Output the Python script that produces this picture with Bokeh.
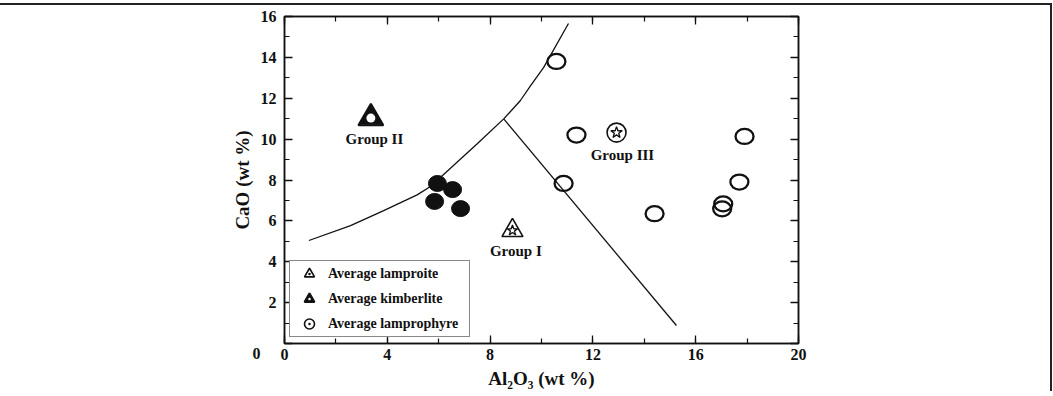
from bokeh.plotting import figure
from bokeh.models import (LinearAxis, SingleIntervalTicker, Legend, LegendItem,
                          ColumnDataSource, CustomJSTickFormatter)
from bokeh.core.properties import value
from bokeh.embed import file_html
from bokeh.resources import INLINE

# ---------------- data ----------------
filled_al2o3 = [5.95, 6.54, 5.84, 6.85]
filled_cao = [7.83, 7.53, 6.95, 6.60]

open_al2o3 = [10.58, 11.36, 10.86, 14.40, 17.07, 17.03, 17.70, 17.90]
open_cao = [13.80, 10.20, 7.83, 6.35, 6.83, 6.59, 7.90, 10.13]

curve_al2o3 = [0.95, 2.57, 3.86, 5.16, 5.68, 6.33, 7.50, 8.53, 9.18, 9.57, 10.08, 11.05]
curve_cao = [5.04, 5.77, 6.50, 7.27, 7.68, 8.43, 9.77, 10.99, 11.89, 12.60, 13.50, 15.66]

divider_al2o3 = [8.53, 15.25]
divider_cao = [10.99, 0.88]

kimberlite_al2o3 = [3.36]
kimberlite_cao = [11.03]
lamproite_al2o3 = [8.87]
lamproite_cao = [5.53]
lamprophyre_al2o3 = [12.92]
lamprophyre_cao = [10.32]

group_names = ["Group II", "Group I", "Group III"]
group_label_al2o3 = [3.50, 9.00, 13.15]
group_label_cao = [10.03, 4.55, 9.20]

legend_labels = ["Average lamproite", "Average kimberlite", "Average lamprophyre"]

x_label = "Al\u2082O\u2083 (wt %)"
y_label = "CaO (wt %)"

FONT = "Liberation Serif"
INK = "#111111"

p = figure(frame_width=514, frame_height=327, x_range=(0, 20), y_range=(0, 16),
           output_backend="svg", toolbar_location=None,
           min_border_left=284, min_border_right=252, min_border_top=11,
           min_border_bottom=48, background_fill_color="white",
           border_fill_color="white", outline_line_color=INK,
           outline_line_width=1.5)
p.xgrid.visible = False
p.ygrid.visible = False

blank = CustomJSTickFormatter(code="return ''")


def style_axis(ax, show_labels=True):
    ax.major_tick_in = 8
    ax.major_tick_out = 0
    ax.minor_tick_in = 5
    ax.minor_tick_out = 0
    ax.axis_line_width = 1.5
    ax.axis_line_color = INK
    ax.major_tick_line_width = 1.3
    ax.minor_tick_line_width = 1.2
    ax.major_tick_line_color = INK
    ax.minor_tick_line_color = INK
    if show_labels:
        ax.major_label_text_font = FONT
        ax.major_label_text_font_style = "bold"
        ax.major_label_text_font_size = "16px"
        ax.major_label_text_color = INK
        ax.axis_label_text_font = FONT
        ax.axis_label_text_font_style = "bold"
        ax.axis_label_text_font_size = "19px"
        ax.axis_label_text_color = INK
    else:
        ax.formatter = blank
        ax.major_label_standoff = 0


xa = p.xaxis[0]
xa.ticker = SingleIntervalTicker(interval=4, num_minor_ticks=2)
style_axis(xa)
xa.major_label_standoff = 5
xa.axis_label = x_label
xa.axis_label_standoff = 5

ya = p.yaxis[0]
ya.ticker = SingleIntervalTicker(interval=2, num_minor_ticks=2)
style_axis(ya)
ya.major_label_standoff = 8
ya.major_label_overrides = {0: "\n0\u2002\u2002"}
ya.axis_label = y_label
ya.axis_label_standoff = -3

top = LinearAxis(ticker=SingleIntervalTicker(interval=4, num_minor_ticks=2))
style_axis(top, show_labels=False)
p.add_layout(top, "above")
right = LinearAxis(ticker=SingleIntervalTicker(interval=2, num_minor_ticks=2))
style_axis(right, show_labels=False)
p.add_layout(right, "right")

# boundary lines
p.line(curve_al2o3, curve_cao, line_color=INK, line_width=1.3)
p.line(divider_al2o3, divider_cao, line_color=INK, line_width=1.3)

# samples
p.ellipse(x=filled_al2o3, y=filled_cao, width=18, height=16,
          width_units="screen", height_units="screen",
          fill_color=INK, line_color=INK, line_width=1)
p.ellipse(x=open_al2o3, y=open_cao, width=18, height=15,
          width_units="screen", height_units="screen",
          fill_color=None, line_color=INK, line_width=2.3)

# average compositions
src_lamp = ColumnDataSource(dict(x=lamproite_al2o3, y=lamproite_cao))
src_kimb = ColumnDataSource(dict(x=kimberlite_al2o3, y=kimberlite_cao))
src_lph = ColumnDataSource(dict(x=lamprophyre_al2o3, y=lamprophyre_cao))

r_lamp = p.scatter("x", "y", source=src_lamp, marker="triangle_dot", size=21,
                   fill_color="white", line_color=INK, line_width=1.6)
p.scatter("x", "y", source=src_lamp, marker="star", size=11,
          fill_color="white", line_color=INK, line_width=1.3)

r_kimb_a = p.scatter("x", "y", source=src_kimb, marker="triangle_dot", size=25,
                     fill_color=INK, line_color="white", line_width=1)
r_kimb_b = p.scatter("x", "y", source=src_kimb, marker="triangle", size=25,
                     fill_color=None, line_color=INK, line_width=2)
p.scatter("x", "y", source=src_kimb, marker="circle", size=9,
          fill_color="white", line_color=None)

r_lph = p.scatter("x", "y", source=src_lph, marker="circle_dot", size=19,
                  fill_color="white", line_color=INK, line_width=1.6)
p.scatter("x", "y", source=src_lph, marker="star", size=12,
          fill_color="white", line_color=INK, line_width=1.3)

# group labels
p.text(x=group_label_al2o3, y=group_label_cao, text=group_names,
       text_font=value(FONT), text_font_style="bold", text_font_size="15px",
       text_color=INK, text_align="center", text_baseline="middle")

legend = Legend(items=[
    LegendItem(label=legend_labels[0], renderers=[r_lamp]),
    LegendItem(label=legend_labels[1], renderers=[r_kimb_a, r_kimb_b]),
    LegendItem(label=legend_labels[2], renderers=[r_lph]),
], location=(5, 6), glyph_width=38, glyph_height=25, label_height=25,
    label_width=141, spacing=0, padding=0, label_standoff=0, margin=0,
    border_line_color=INK, border_line_width=1, background_fill_color="white",
    background_fill_alpha=1, label_text_font=FONT, label_text_font_style="bold",
    label_text_font_size="14px", label_text_color=INK)
p.add_layout(legend)

p.styles = {"margin-top": "3px", "border-top": "2px solid #222222",
            "border-right": "2px solid #222222"}

open("out.html", "w").write(file_html(p, INLINE))
